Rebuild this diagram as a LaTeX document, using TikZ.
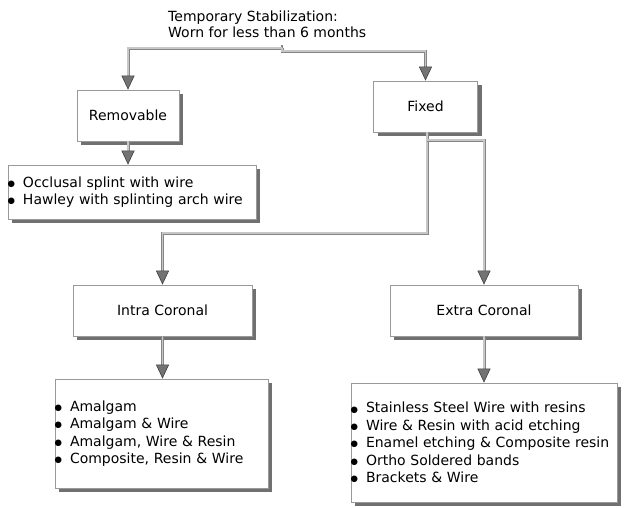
\documentclass[tikz,border=0pt]{standalone}
\usepackage{fontspec}
\setmainfont{DejaVu Sans}
\usetikzlibrary{arrows.meta,shadows}
\newcommand\blt{\makebox[15pt][l]{\hspace{-0.5pt}\raisebox{0.8pt}{\fontsize{8.5}{8.5}\selectfont ●}}}
\begin{document}
\begin{tikzpicture}[x=1pt,y=-1pt,
  txt/.style={font=\fontsize{14}{17.4}\selectfont},
  box/.style={txt, draw=black!40, line width=0.8pt, fill=white, inner sep=0pt,
    drop shadow={shadow xshift=4pt, shadow yshift=-4pt, fill=black!80, opacity=0.7}},
  listbox/.style={box, align=left, inner xsep=0pt},
  conn/.style={draw=black!22, line width=1.1pt,
    preaction={draw=black!48, line width=3pt, shorten >=9pt, arrows=-},
    -{Triangle[length=14pt,width=13pt,line width=0.6pt,fill=black!55,color=black!75]}},
  plain/.style={draw=black!48, line width=1.2pt}
]
\useasboundingbox (0,0) rectangle (624,507);
\node[anchor=north west, align=left, inner sep=0pt, font=\fontsize{14}{16.5}\selectfont] (title) at (168,10.5)
  {Temporary Stabilization:\\Worn for less than 6 months};
\node[box, minimum width=102pt, minimum height=51pt] (rem) at (128,115.5) {Removable};
\node[box, minimum width=104pt, minimum height=51pt] (fix) at (425.5,106.5) {Fixed};
\node[listbox, text width=248pt, minimum height=54pt] (l1) at (132,192)
  {\blt Occlusal splint with wire\\\blt Hawley with splinting arch wire};
\node[box, minimum width=179pt, minimum height=51pt] (intra) at (162.5,310.5) {Intra Coronal};
\node[box, minimum width=188pt, minimum height=51pt] (extra) at (484,310.5) {Extra Coronal};
\node[listbox, text width=213pt, minimum height=109pt] (l2) at (161.5,433.5)
  {\blt Amalgam\\\blt Amalgam \& Wire\\\blt Amalgam, Wire \& Resin\\\blt Composite, Resin \& Wire};
\node[listbox, text width=266pt, minimum height=119pt] (l3) at (484,442.5)
  {\blt Stainless Steel Wire with resins\\\blt Wire \& Resin with acid etching\\\blt Enamel etching \& Composite resin\\\blt Ortho Soldered bands\\\blt Brackets \& Wire};
\coordinate (tj) at (282,48);
\coordinate (tk) at (282,51);
\coordinate (fa) at (427,132);
\coordinate (fb) at (427,140);
\draw[plain] (tj) -- ++(0,-3.5);
\draw[conn] (tj) -| (rem.north);
\draw[conn] (tj) -- (tk) -| (fix.north);
\draw[conn] (rem.south) -- (rem.south |- l1.north);
\draw[conn] (fa) -- (427,233) -| (intra.north);
\draw[conn] (fb) -| (extra.north);
\draw[conn] (intra.south) -- (intra.south |- l2.north);
\draw[conn] (extra.south) -- (extra.south |- l3.north);
\end{tikzpicture}
\end{document}
